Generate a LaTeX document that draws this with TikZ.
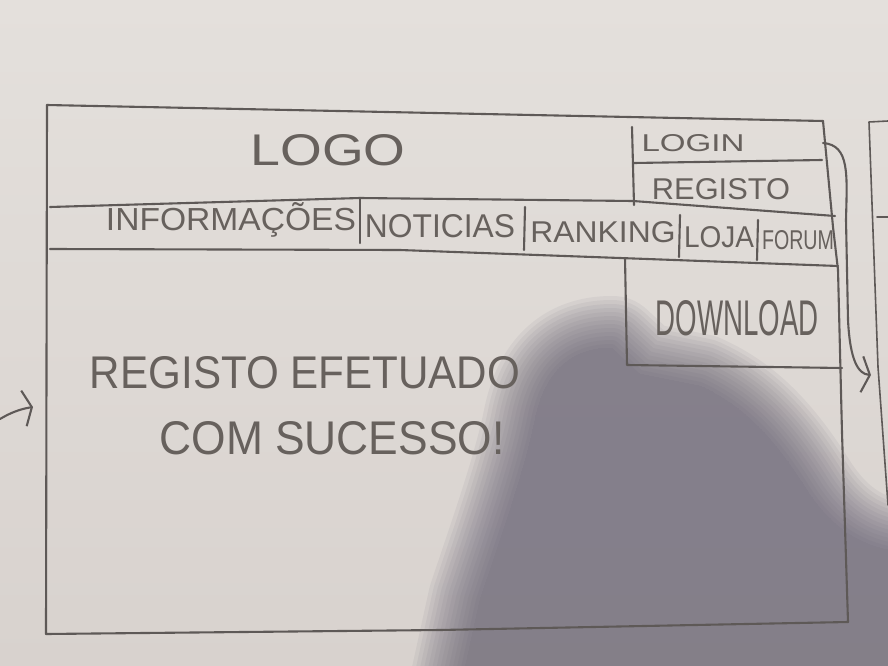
\documentclass[tikz,border=0pt]{standalone}
\usepackage{fontspec}
\setmainfont{Liberation Sans}
\usepackage{graphicx}
\usetikzlibrary{arrows.meta}
\definecolor{paperc}{HTML}{E4E0DC}
\definecolor{paperlow}{HTML}{D8D2CE}
\definecolor{shadowc}{HTML}{5F5A6C}
\definecolor{pencilc}{HTML}{5E5957}
\definecolor{inkc}{HTML}{67615D}
% handwritten-style label squeezed to a given width and height (pt)
\newcommand\handtext[3]{\resizebox{#1pt}{#2pt}{#3}}
\begin{document}
\begin{tikzpicture}[x=1pt,y=-1pt,
  pencil/.style={draw=pencilc, line width=2.1pt, line cap=round, line join=round},
  thinpencil/.style={draw=pencilc, line width=1.6pt, line cap=round, line join=round},
  hand/.style={text=inkc, inner sep=0pt},
  barb/.style={-{Straight Barb[length=8pt,width=36pt,line width=2.1pt]}}]
\useasboundingbox (0,0) rectangle (888,666);

% sheet of paper
\shade[top color=paperc, bottom color=paperlow] (0,0) rectangle (888,666);

% soft shadow over the lower right of the sheet: stacked, grown copies of one outline
\def\shadowpath{(458,700) -- (480,600) .. controls (500,540) and (525,470) .. (535,420)
  .. controls (545,370) and (572,348) .. (612,348) -- (640,374) -- (700,386)
  .. controls (745,406) and (775,440) .. (805,487) .. controls (830,527) and (860,547) .. (900,552)
  -- (900,700) -- cycle}
\foreach \w in {104,96,...,0}{
  \begin{scope}[transparency group, opacity=0.075]
    \filldraw[fill=shadowc, draw=shadowc, line width=\w pt, line join=round] \shadowpath;
  \end{scope}
}

% page frame
\coordinate (tl) at (47,105);
\coordinate (tr) at (823,121);
\coordinate (br) at (848,622);
\coordinate (bl) at (46,634);
\draw[pencil] (tl) -- (tr);
\draw[pencil] (tl) -- (bl) -- (440,630) -- (br);
\draw[pencil] (tr) -- (833,227) -- (838,270) -- (842,433) -- (br);

% login / registo box
\draw[pencil] (632,127) -- (634,205);
\draw[pencil] (634,163) -- (822,160);

% navigation bar
\draw[pencil] (50,207) -- (360,198) -- (633,201) -- (835,216);
\draw[pencil] (50,249) -- (400,250) -- (620,258) -- (838,266);
\draw[pencil] (360,198) -- (360,243);
\draw[pencil] (525,207) -- (524,250);
\draw[pencil] (680,215) -- (679,257);
\draw[pencil] (758,220) -- (757,260);

% download box
\draw[pencil] (625,258) -- (627,365) -- (842,368);

% labels
\node[hand] (logo) at (328,150) {\handtext{155}{31}{LOGO}};
\node[hand] (login) at (693,143) {\handtext{103}{17}{LOGIN}};
\node[hand] (registo) at (721,189) {\handtext{138}{21}{REGISTO}};
\node[hand] (info) at (231,220) {\handtext{250}{28}{INFORMAÇÕES}};
\node[hand] (noticias) at (440,226) {\handtext{150}{23}{NOTICIAS}};
\node[hand] (ranking) at (603,232) {\handtext{145}{21}{RANKING}};
\node[hand] (loja) at (719,237) {\handtext{70}{21}{LOJA}};
\node[hand] (forum) at (798,240) {\handtext{72}{19}{FORUM}};
\node[hand] (download) at (737,318) {\handtext{163}{35}{DOWNLOAD}};
\node[hand] (msg1) at (305,373) {\handtext{430}{32}{REGISTO EFETUADO}};
\node[hand] (msg2) at (332,438) {\handtext{345}{33}{COM SUCESSO!}};

% link from the login box to the next page
\coordinate (nextpage) at (871,375);
\draw[pencil, barb] (823,143) .. controls (850,145) and (847,175) .. (846,220)
  -- (848,320) .. controls (850,360) and (858,374) .. (nextpage);

% link arriving from the previous page
\coordinate (prevpage) at (0,419);
\coordinate (entry) at (33,407);
\draw[pencil, barb] (prevpage) .. controls (10,413) and (20,409) .. (entry);

% edge of the next page
\draw[thinpencil] (888,121) -- (869,122) -- (878,367) -- (888,505);
\draw[thinpencil] (877,217) -- (888,217);
\end{tikzpicture}
\end{document}
